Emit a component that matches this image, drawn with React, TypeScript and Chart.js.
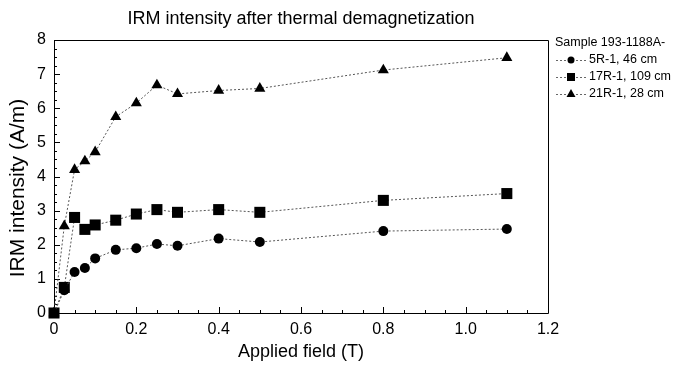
import React, { useEffect, useRef } from "react";
import { Chart, registerables } from "chart.js";

Chart.register(...registerables);

const fieldT = [0, 0.025, 0.05, 0.075, 0.1, 0.15, 0.2, 0.25, 0.3, 0.4, 0.5, 0.8, 1.1];
const irm5R = [0, 0.67, 1.2, 1.32, 1.6, 1.85, 1.9, 2.02, 1.97, 2.18, 2.08, 2.4, 2.46];
const irm17R = [0, 0.75, 2.8, 2.45, 2.58, 2.72, 2.9, 3.03, 2.95, 3.03, 2.95, 3.3, 3.5];
const irm21R = [0, 2.55, 4.2, 4.45, 4.72, 5.75, 6.15, 6.68, 6.42, 6.52, 6.58, 7.12, 7.48];

const seriesLabels = ["5R-1, 46 cm", "17R-1, 109 cm", "21R-1, 28 cm"];
const legendTitle = "Sample 193-1188A-";
const chartTitle = "IRM intensity after thermal demagnetization";
const xTitle = "Applied field (T)";
const yTitle = "IRM intensity (A/m)";

const FONT = "'Liberation Sans', Arial, Helvetica, sans-serif";

function drawMarker(ctx: CanvasRenderingContext2D, style: string, x: number, y: number, r: number) {
  ctx.beginPath();
  if (style === "circle") {
    ctx.arc(x, y, r, 0, Math.PI * 2);
  } else if (style === "rect") {
    ctx.rect(x - r, y - r, 2 * r, 2 * r);
  } else {
    ctx.moveTo(x, y - r);
    ctx.lineTo(x + r * 0.9, y + r * 0.6);
    ctx.lineTo(x - r * 0.9, y + r * 0.6);
    ctx.closePath();
  }
  ctx.fill();
}

const frameAndTicks = {
  id: "frameAndTicks",
  beforeDatasetsDraw(chart: any) {
    const { ctx, chartArea: a, scales } = chart;
    const xs = scales.x;
    const ys = scales.y;
    ctx.save();
    ctx.fillStyle = "#000";
    ctx.font = "18px " + FONT;
    ctx.textAlign = "center";
    ctx.textBaseline = "middle";
    ctx.fillText(chartTitle, (a.left + a.right) / 2, 19);

    ctx.save();
    ctx.translate(18, 188);
    ctx.rotate(-Math.PI / 2);
    ctx.font = "21px " + FONT;
    ctx.fillText(yTitle, 0, 0);
    ctx.restore();

    ctx.strokeStyle = "#000";
    ctx.lineWidth = 1;
    ctx.beginPath();
    ctx.rect(Math.round(a.left) + 0.5, Math.round(a.top) + 0.5, Math.round(a.right - a.left), Math.round(a.bottom - a.top));
    ctx.stroke();
    ctx.beginPath();
    for (let i = 0; i <= 24; i++) {
      const v = i * 0.05;
      const px = Math.round(xs.getPixelForValue(v)) + 0.5;
      const len = i % 4 === 0 ? 6 : 3;
      ctx.moveTo(px, a.bottom);
      ctx.lineTo(px, a.bottom - len);
    }
    for (let i = 0; i <= 32; i++) {
      const v = i * 0.25;
      const py = Math.round(ys.getPixelForValue(v)) + 0.5;
      const len = i % 4 === 0 ? 6 : 3;
      ctx.moveTo(a.left, py);
      ctx.lineTo(a.left + len, py);
    }
    ctx.stroke();

    const lx = a.right + 7;
    let ly = a.top + 3;
    ctx.fillStyle = "#000";
    ctx.font = "12.5px " + FONT;
    ctx.textBaseline = "middle";
    ctx.textAlign = "left";
    ctx.fillText(legendTitle, lx, ly);
    chart.data.datasets.forEach((ds: any) => {
      ly += 17;
      ctx.save();
      ctx.strokeStyle = "#666";
      ctx.setLineDash([2, 2]);
      ctx.beginPath();
      ctx.moveTo(lx + 1, ly + 0.5);
      ctx.lineTo(lx + 31, ly + 0.5);
      ctx.stroke();
      ctx.restore();
      const style = ds.pointStyle;
      const r = style === "circle" ? 3.5 : style === "rect" ? 4 : 5;
      ctx.fillStyle = "#000";
      drawMarker(ctx, style, lx + 16, ly, r);
      ctx.fillStyle = "#000";
      ctx.fillText(ds.label, lx + 34, ly);
    });
    ctx.restore();
  },
};

function makeData(ys: number[]) {
  return fieldT.map((x, i) => ({ x, y: ys[i] }));
}

export default function App() {
  const ref = useRef<HTMLCanvasElement>(null);
  useEffect(() => {
    if (!ref.current) return;
    const common = {
      showLine: true,
      clip: false,
      borderColor: "#555",
      borderWidth: 1,
      borderDash: [2, 2],
      backgroundColor: "#000",
      pointBackgroundColor: "#000",
      pointBorderColor: "#000",
      pointBorderWidth: 0,
    };
    const chart = new Chart(ref.current, {
      type: "scatter",
      data: {
        datasets: [
          { ...common, label: seriesLabels[0], data: makeData(irm5R), pointStyle: "circle", pointRadius: 5 },
          { ...common, label: seriesLabels[1], data: makeData(irm17R), pointStyle: "rect", pointRadius: 7.8 },
          { ...common, label: seriesLabels[2], data: makeData(irm21R), pointStyle: "triangle", pointRadius: 6.4 },
        ],
      },
      options: {
        animation: false,
        responsive: false,
        devicePixelRatio: 1,
        layout: { padding: { left: 0, right: 136, top: 40, bottom: 0 } },
        plugins: {
          legend: { display: false },
          tooltip: { enabled: false },
          title: { display: false },
        },
        scales: {
          x: {
            type: "linear",
            min: 0,
            max: 1.2,
            grid: { display: false, drawTicks: false },
            border: { display: false },
            afterFit: (s: any) => {
              s.height = 62;
            },
            ticks: {
              stepSize: 0.2,
              color: "#000",
              font: { family: FONT, size: 16 },
              padding: 7,
              maxRotation: 0,
              callback: (v: any) => (Number(v) === 0 ? "0" : Number(v).toFixed(1)),
            },
            title: {
              display: true,
              text: xTitle,
              color: "#000",
              font: { family: FONT, size: 18 },
              padding: { top: 0, bottom: 12 },
            },
          },
          y: {
            type: "linear",
            min: 0,
            max: 8,
            grid: { display: false, drawTicks: false },
            border: { display: false },
            afterFit: (s: any) => {
              s.width = 54;
            },
            ticks: {
              stepSize: 1,
              color: "#000",
              font: { family: FONT, size: 16 },
              padding: 8,
            },
            title: { display: false },
          },
        },
      },
      plugins: [frameAndTicks],
    });
    return () => chart.destroy();
  }, []);
  return (
    <div style={{ position: "absolute", left: 0, top: 0, width: 684, height: 375, background: "#fff" }}>
      <canvas ref={ref} width={684} height={375} style={{ width: 684, height: 375 }} />
    </div>
  );
}
